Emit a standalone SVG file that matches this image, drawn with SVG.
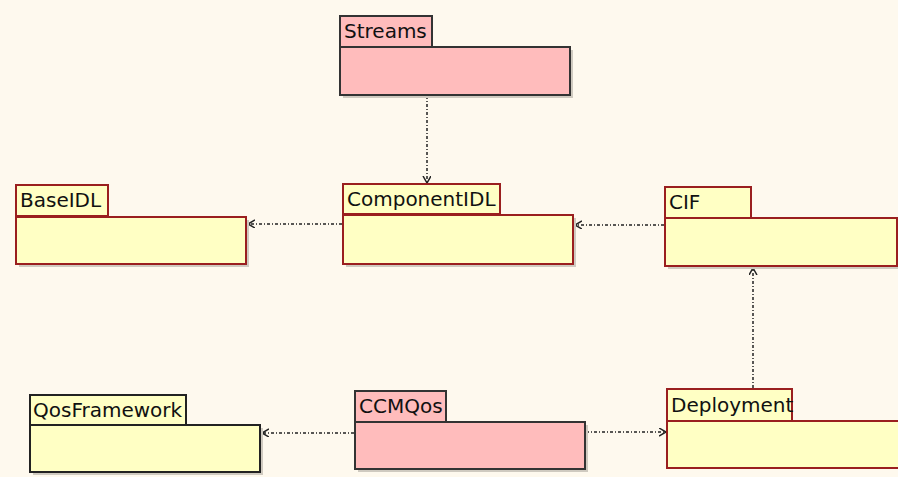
<svg xmlns="http://www.w3.org/2000/svg" width="898" height="477" viewBox="0 0 898 477">
<defs>
<style>
.bg{fill:#fef9ee}
.sh{fill:#cfcac0}
.y{fill:#ffffc4;stroke:#9a1f1f;stroke-width:2}
.p{fill:#ffbcbc;stroke:#333333;stroke-width:2}
.t{font-family:"DejaVu Sans",sans-serif;font-size:20px;fill:#111}
.c{fill:none;stroke:#222;stroke-width:1.5;stroke-dasharray:3,2,1,2}
</style>
<marker id="arr" markerUnits="userSpaceOnUse" markerWidth="12" markerHeight="12" refX="7" refY="4" orient="auto">
<path d="M0,0 L7,4 L0,8" fill="none" stroke="#222" stroke-width="1.5"/>
</marker>
</defs>
<rect class="bg" x="0" y="0" width="898" height="477"/>
<g id="connectors">
<line class="c" x1="427" y1="96" x2="427" y2="183" marker-end="url(#arr)"/>
<line class="c" x1="342" y1="224" x2="248" y2="224" marker-end="url(#arr)"/>
<line class="c" x1="664" y1="225" x2="575" y2="225" marker-end="url(#arr)"/>
<line class="c" x1="753" y1="388" x2="753" y2="268" marker-end="url(#arr)"/>
<line class="c" x1="354" y1="433" x2="262" y2="433" marker-end="url(#arr)"/>
<line class="c" x1="586" y1="432" x2="666" y2="432" marker-end="url(#arr)"/>
</g>
<g id="Streams">
<rect class="sh" x="343" y="50" width="230" height="48"/>
<rect class="p" x="340" y="16" width="92" height="31"/>
<rect class="p" x="340" y="47" width="230" height="48"/>
<text class="t" x="344" y="38">Streams</text>
</g>
<g id="BaseIDL">
<rect class="sh" x="19" y="220" width="230" height="47"/>
<rect class="y" x="16" y="185" width="92" height="31"/>
<rect class="y" x="16" y="217" width="230" height="47"/>
<text class="t" x="20" y="207">BaseIDL</text>
</g>
<g id="ComponentIDL">
<rect class="sh" x="346" y="218" width="230" height="49"/>
<rect class="y" x="343" y="184" width="157" height="30"/>
<rect class="y" x="343" y="215" width="230" height="49"/>
<text class="t" x="347" y="206">ComponentIDL</text>
</g>
<g id="CIF">
<rect class="sh" x="668" y="221" width="232" height="48"/>
<rect class="y" x="665" y="187" width="86" height="31"/>
<rect class="y" x="665" y="218" width="232" height="48"/>
<text class="t" x="669" y="209">CIF</text>
</g>
<g id="QosFramework">
<rect class="sh" x="33" y="428" width="230" height="47"/>
<rect class="y" x="30" y="395" width="156" height="30" style="stroke:#222"/>
<rect class="y" x="30" y="425" width="230" height="47" style="stroke:#222"/>
<text class="t" x="33" y="417">QosFramework</text>
</g>
<g id="CCMQos">
<rect class="sh" x="358" y="425" width="230" height="47"/>
<rect class="p" x="355" y="391" width="91" height="31"/>
<rect class="p" x="355" y="422" width="230" height="47"/>
<text class="t" x="359" y="413">CCMQos</text>
</g>
<g id="Deployment">
<rect class="y" x="667" y="389" width="125" height="32"/>
<rect class="y" x="667" y="421" width="232" height="47"/>
<text class="t" x="671" y="412">Deployment</text>
</g>
</svg>
